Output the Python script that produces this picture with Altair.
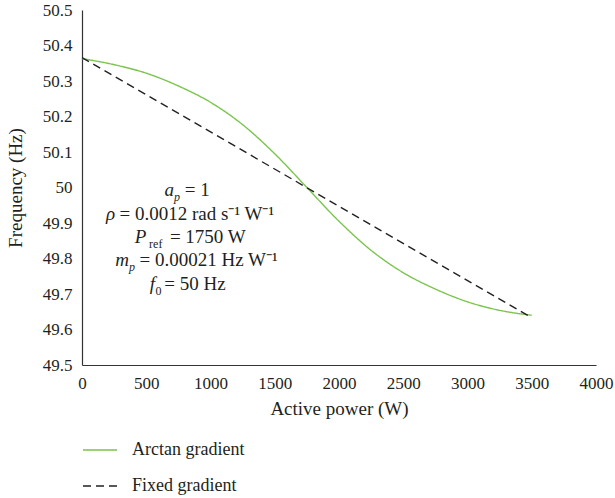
import altair as alt
import pandas as pd

# ---- data ----
power_arctan = [0, 250, 500, 750, 1000, 1250, 1500, 1750, 2000, 2250, 2500, 2750, 3000, 3250, 3500]
freq_arctan = [50.363, 50.346, 50.322, 50.286, 50.240, 50.177, 50.095, 50.000,
               49.905, 49.823, 49.760, 49.714, 49.678, 49.654, 49.640]
power_fixed = [0, 3500]
freq_fixed = [50.366, 49.633]

series_names = ["Arctan gradient", "Fixed gradient"]
series_colors = ["#7bc44e", "#222222"]
series_dashes = [[1, 0], [8, 5]]

x_ticks = [0, 500, 1000, 1500, 2000, 2500, 3000, 3500, 4000]
y_ticks = [49.5, 49.6, 49.7, 49.8, 49.9, 50.0, 50.1, 50.2, 50.3, 50.4, 50.5]

# annotation pieces: text, x (W), y (Hz baseline), align, subscript, italic
ann_text = ["a", "p", "= 1",
            "ρ", "= 0.0012 rad s⁻¹ W⁻¹",
            "P", "ref", "= 1750 W",
            "m", "p", "= 0.00021 Hz W⁻¹",
            "f", "0", "= 50 Hz"]
ann_x = [715, 715, 800,
         257, 292,
         500, 522, 684,
         365, 365, 448,
         568, 572, 640]
ann_y = [49.977, 49.977, 49.977,
         49.909, 49.909,
         49.845, 49.845, 49.845,
         49.780, 49.780, 49.780,
         49.710, 49.710, 49.710]
ann_align = ["right", "left", "left",
             "right", "left",
             "right", "left", "left",
             "right", "left", "left",
             "right", "left", "left"]
ann_sub = [0, 1, 0,
           0, 0,
           0, 1, 0,
           0, 1, 0,
           0, 1, 0]
ann_italic = [1, 1, 0,
              1, 0,
              1, 0, 0,
              1, 1, 0,
              1, 0, 0]

FONT = "Liberation Serif"

lines_df = pd.concat([
    pd.DataFrame({"P": power_arctan, "f": freq_arctan, "series": series_names[0]}),
    pd.DataFrame({"P": power_fixed, "f": freq_fixed, "series": series_names[1]}),
])

ann_df = pd.DataFrame({"t": ann_text, "P": ann_x, "f": ann_y, "align": ann_align,
                       "sub": ann_sub, "it": ann_italic})

xscale = alt.Scale(domain=[0, 4000], nice=False)
yscale = alt.Scale(domain=[49.5, 50.5], nice=False, zero=False)

x_axis = alt.Axis(values=x_ticks, format="d", grid=False, ticks=False, tickSize=0,
                  labelPadding=10, titleY=43.5, titleX=257, titleBaseline="middle",
                  labelFlush=False, labelOverlap=False)
y_axis = alt.Axis(values=y_ticks, format=".1~f", grid=False, ticks=False, tickSize=0,
                  labelPadding=10, titleX=-67, titleY=177.5, titleBaseline="middle",
                  labelFlush=False, labelOverlap=False)

X_ENC = alt.X("P:Q", scale=xscale, title="Active power (W)", axis=x_axis)
Y_ENC = alt.Y("f:Q", scale=yscale, title="Frequency (Hz)", axis=y_axis)

legend_kw = dict(title=None, orient="none", legendX=0, legendY=422,
                 direction="vertical", symbolType="stroke",
                 symbolSize=1156, symbolStrokeWidth=1.5,
                 labelOffset=14, rowPadding=9, padding=0,
                 labelFont=FONT, labelFontSize=18, labelColor="#231f20")

lines = alt.Chart(lines_df).mark_line(interpolate="monotone", strokeWidth=1.4).encode(
    x=X_ENC,
    y=Y_ENC,
    color=alt.Color("series:N", scale=alt.Scale(domain=series_names, range=series_colors),
                    legend=alt.Legend(**legend_kw)),
    strokeDash=alt.StrokeDash("series:N", scale=alt.Scale(domain=series_names, range=series_dashes),
                              legend=alt.Legend(**legend_kw)),
    detail="series:N",
)

def ann_layer(d, sub, it, align):
    return alt.Chart(d).mark_text(
        font=FONT, fontSize=12 if sub else 19, fontStyle="italic" if it else "normal",
        align=align, baseline="alphabetic", dy=5 if sub else 0, color="#231f20",
    ).encode(x=X_ENC, y=Y_ENC, text="t:N")

ann_layers = []
for sub in (0, 1):
    for it in (0, 1):
        for align in ("left", "right"):
            d = ann_df[(ann_df["sub"] == sub) & (ann_df["it"] == it) & (ann_df["align"] == align)]
            if len(d):
                ann_layers.append(ann_layer(d, sub, it, align))

chart = alt.layer(lines, *ann_layers).properties(
    width=514, height=355,
    autosize=alt.AutoSizeParams(type="none"),
    padding={"left": 82, "top": 10, "right": 19, "bottom": 133},
).configure_view(stroke=None).configure_axis(
    labelFont=FONT, labelFontSize=17, labelColor="#231f20",
    titleFont=FONT, titleFontSize=19, titleColor="#231f20", titleFontWeight="normal",
    domainColor="#333333", domainWidth=1.2,
).configure_legend(symbolStrokeColor="#222222")

chart.save("out.html", embed_options={"renderer": "svg", "actions": False})
